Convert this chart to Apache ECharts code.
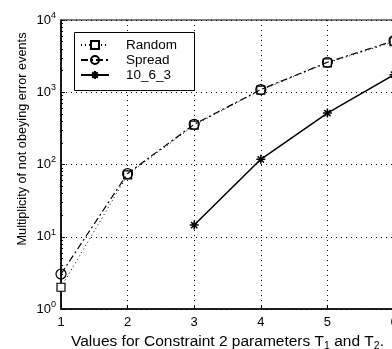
<!DOCTYPE html>
<html><head><meta charset="utf-8">
<script src="https://cdn.jsdelivr.net/npm/echarts@6/dist/echarts.min.js"></script>
<style>html,body{margin:0;padding:0;background:#fff}#c{width:392px;height:349px}</style>
</head><body><div id="c"></div>
<script>
var xValues = [1, 2, 3, 4, 5, 6];
var randomVals = [2, 72, 350, 1070, 2550, 5000];
var spreadVals = [3.05, 75, 360, 1090, 2600, 5150];
var x1063Vals = [null, null, 14.5, 118, 515, 1750];
var seriesNames = ['Random', 'Spread', '10_6_3'];
var xTitle = 'Values for Constraint 2 parameters T{sub|1} and T{sub|2}.';
var yTitle = 'Multiplicity of not obeying error events';

function pairs(vals) { return xValues.map(function (x, i) { return [x, vals[i]]; }).filter(function (p) { return p[1] != null; }); }
var FONT = 'Liberation Sans';
var chart = echarts.init(document.getElementById('c'), null, { renderer: 'canvas' });
chart.setOption({
  animation: false,
  backgroundColor: '#fff',
  textStyle: { fontFamily: FONT, color: '#000' },
  grid: { left: 61, right: -2, top: 20, bottom: 40, outerBoundsMode: 'none', containLabel: false,
    show: true, borderColor: '#000', borderWidth: 1.2 },
  legend: {
    left: 74, top: 34, orient: 'vertical', padding: [4, 19, 4, 6], itemGap: 1, itemWidth: 28, itemHeight: 10,
    textStyle: { fontFamily: FONT, fontSize: 13.5, color: '#000', padding: [0, 0, 0, 12] },
    data: seriesNames, z: 10
  },
  graphic: [{
    type: 'rect', z: 5, shape: { x: 74.5, y: 32.5, width: 120, height: 58 },
    style: { fill: '#fff', stroke: '#000', lineWidth: 1 }
  }, {
    type: 'text', x: 22, y: 139, rotation: Math.PI / 2,
    style: { text: yTitle, font: '12.7px "Liberation Sans"', fill: '#000', align: 'center', verticalAlign: 'middle' }
  }],
  xAxis: {
    type: 'value', min: 1, max: 6, interval: 1,
    axisLine: { lineStyle: { color: '#000', width: 1.5 } },
    axisTick: { inside: true, length: 4, lineStyle: { color: '#000' } },
    axisLabel: { fontFamily: FONT, fontSize: 13, color: '#000', margin: 7 },
    splitLine: { show: true, lineStyle: { color: '#000', type: [1, 4], width: 1 } },
    name: xTitle, nameLocation: 'middle', nameGap: 16,
    nameTextStyle: { fontFamily: FONT, fontSize: 15.5, color: '#000',
      rich: { sub: { fontFamily: FONT, fontSize: 10.5, verticalAlign: 'bottom', padding: [9, 0, 0, 0] } } }
  },
  yAxis: {
    type: 'log', logBase: 10, min: 1, max: 10000,
    axisLine: { lineStyle: { color: '#000', width: 1.5 } },
    axisTick: { inside: true, length: 4, lineStyle: { color: '#000' } },
    minorTick: { show: true, splitNumber: 9, length: 2, lineStyle: { color: '#000' } },
    axisLabel: {
      fontFamily: FONT, color: '#000', margin: 5,
      formatter: function (v) { return '{b|10}{s|' + Math.round(Math.log10(v)) + '}'; },
      rich: { b: { fontFamily: FONT, fontSize: 13, color: '#000' }, s: { fontFamily: FONT, fontSize: 9, color: '#000', verticalAlign: 'top', padding: [0, 0, 9, 0] } }
    },
    splitLine: { show: true, lineStyle: { color: '#000', type: [1, 4], width: 1 } }
  },
  series: [
    { name: seriesNames[0], type: 'line', data: pairs(randomVals), symbol: 'rect', symbolSize: 8,
      lineStyle: { color: '#000', width: 1, type: [1, 3] },
      itemStyle: { color: '#fff', borderColor: '#000', borderWidth: 1.2 }, z: 3 },
    { name: seriesNames[1], type: 'line', data: pairs(spreadVals), symbol: 'circle', symbolSize: 10,
      lineStyle: { color: '#000', width: 1.2, type: [7, 3, 2, 3] },
      itemStyle: { color: 'rgba(255,255,255,0)', borderColor: '#000', borderWidth: 1.2 }, z: 4 },
    { name: seriesNames[2], type: 'line', data: pairs(x1063Vals),
      symbol: 'path://M0,-10L0,10M-10,0L10,0M-7,-7L7,7M-7,7L7,-7', symbolSize: 9,
      lineStyle: { color: '#000', width: 1.5, type: 'solid' },
      itemStyle: { color: '#000', borderColor: '#000', borderWidth: 1.5 }, z: 5 }
  ]
});
</script></body></html>
